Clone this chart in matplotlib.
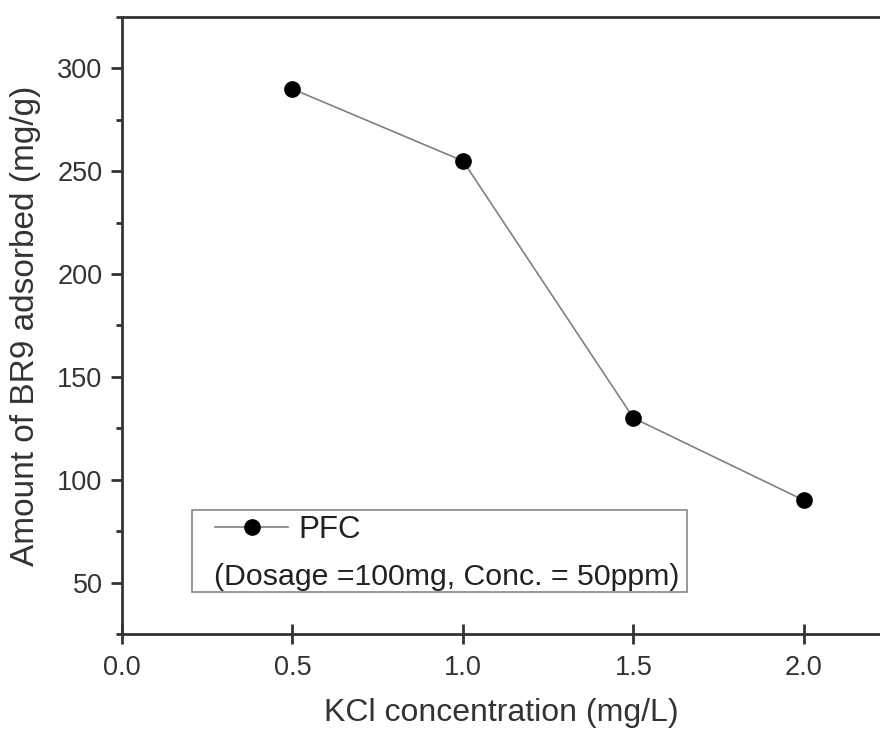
import matplotlib.pyplot as plt
from matplotlib.patches import Rectangle
from matplotlib.ticker import MultipleLocator

plt.rcParams['font.family'] = ['Liberation Sans', 'DejaVu Sans']

# data
kcl = [0.5, 1.0, 1.5, 2.0]
adsorbed = [290, 255, 130, 90]

fig = plt.figure(figsize=(8.8, 7.31), dpi=100)
ax = fig.add_axes([122 / 880, 1 - 634 / 731, 1 - 122 / 880, (634 - 17) / 731])

line, = ax.plot(kcl, adsorbed, color='#808080', lw=1.2, marker='o',
                markersize=11, markerfacecolor='black', markeredgecolor='black')

ax.set_xlim(0, 2.223)
ax.set_ylim(25, 325)
ax.xaxis.set_major_locator(MultipleLocator(0.5))
ax.yaxis.set_minor_locator(MultipleLocator(25))
ax.set_yticks([50, 100, 150, 200, 250, 300])
ax.xaxis.set_major_formatter(plt.FormatStrFormatter('%.1f'))

ax.spines['right'].set_visible(False)
for s in ['left', 'top', 'bottom']:
    ax.spines[s].set_linewidth(2)
    ax.spines[s].set_color('#333333')

ax.tick_params(which='major', direction='out', length=8, width=2, color='#333333',
               labelsize=19.5, labelcolor='#333333', pad=6)
ax.tick_params(which='minor', direction='out', length=4, width=2, color='#333333')
ax.tick_params(axis='x', which='major', direction='inout', length=14, pad=8)

ax.set_xlabel('KCl concentration (mg/L)', fontsize=23, color='#333333', labelpad=12)
ax.set_ylabel('Amount of BR9 adsorbed (mg/g)', fontsize=24, color='#333333', labelpad=12)

# legend box with second line of text
box = Rectangle((0.093, 0.068), 0.653, 0.133, transform=ax.transAxes,
                fill=False, edgecolor='#888888', lw=1.2)
ax.add_patch(box)
ax.legend([line], ['PFC'], loc='center left', bbox_to_anchor=(0.1227, 0.169),
          frameon=False, fontsize=22.5, handlelength=2.34, handletextpad=0.32,
          borderaxespad=0, borderpad=0, labelcolor='#222222')
ax.text(0.122, 0.093, '(Dosage =100mg, Conc. = 50ppm)', transform=ax.transAxes,
        fontsize=21.8, color='#222222', va='center', ha='left')

fig.savefig('out.png', dpi=100)
